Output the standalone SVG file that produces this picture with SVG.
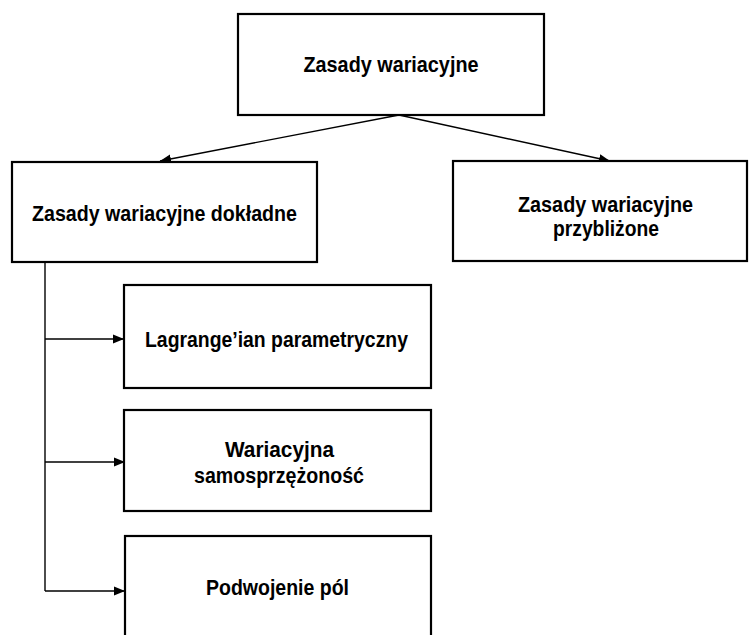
<svg xmlns="http://www.w3.org/2000/svg" width="749" height="635" viewBox="0 0 749 635">
<style>
.box{fill:#fff;stroke:#000;stroke-width:2.2}
.t{font-family:"Liberation Sans",Arial,sans-serif;font-weight:bold;font-size:22px;fill:#000;text-anchor:middle}
.c{fill:none;stroke:#000;stroke-width:1.4}
</style>
<defs>
<marker id="ah" markerUnits="userSpaceOnUse" markerWidth="12" markerHeight="10" refX="11" refY="5" orient="auto">
<path d="M0,0.5 L11,5 L0,9.5 Z" fill="#000"/>
</marker>
</defs>
<rect width="749" height="635" fill="#fff"/>
<g id="connectors">
<line class="c" x1="399" y1="115" x2="160" y2="161" marker-end="url(#ah)"/>
<line class="c" x1="399" y1="115" x2="610" y2="161" marker-end="url(#ah)"/>
<polyline class="c" points="45,262 45,591"/>
<line class="c" x1="45" y1="339" x2="124" y2="339" marker-end="url(#ah)"/>
<line class="c" x1="45" y1="462" x2="125" y2="462" marker-end="url(#ah)"/>
<line class="c" x1="45" y1="591" x2="125" y2="591" marker-end="url(#ah)"/>
</g>
<g id="n-root">
<rect class="box" x="238" y="14" width="306" height="101"/>
<text class="t" x="391" y="72" textLength="175" lengthAdjust="spacingAndGlyphs">Zasady wariacyjne</text>
</g>
<g id="n-exact">
<rect class="box" x="12" y="162" width="305" height="100"/>
<text class="t" x="164.5" y="220.5" textLength="265" lengthAdjust="spacingAndGlyphs">Zasady wariacyjne dokładne</text>
</g>
<g id="n-approx">
<rect class="box" x="453" y="161" width="294" height="100"/>
<text class="t" x="605.5" y="212" textLength="175" lengthAdjust="spacingAndGlyphs">Zasady wariacyjne</text>
<text class="t" x="606" y="235.5" textLength="106" lengthAdjust="spacingAndGlyphs">przybliżone</text>
</g>
<g id="n-lagrange">
<rect class="box" x="124" y="285" width="307" height="103"/>
<text class="t" x="276.5" y="347" textLength="263" lengthAdjust="spacingAndGlyphs">Lagrange’ian parametryczny</text>
</g>
<g id="n-selfadj">
<rect class="box" x="124" y="410" width="307" height="101"/>
<text class="t" x="279.5" y="457" textLength="109" lengthAdjust="spacingAndGlyphs">Wariacyjna</text>
<text class="t" x="279" y="483" textLength="170" lengthAdjust="spacingAndGlyphs">samosprzężoność</text>
</g>
<g id="n-doubling">
<rect class="box" x="125" y="536" width="306" height="130"/>
<text class="t" x="277.5" y="594.5" textLength="143" lengthAdjust="spacingAndGlyphs">Podwojenie pól</text>
</g>
</svg>
